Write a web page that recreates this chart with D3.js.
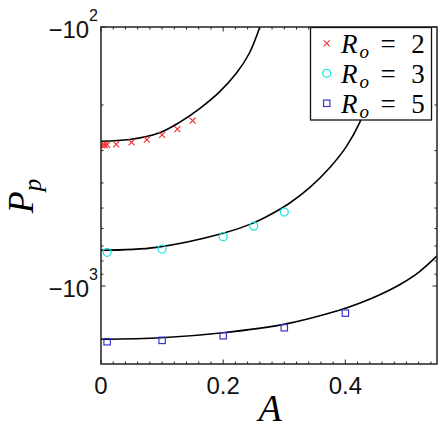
<!DOCTYPE html>
<html>
<head>
<meta charset="utf-8">
<script src="https://d3js.org/d3.v7.min.js"></script>
<style>
  body { margin: 0; background: #fff; }
  svg { display: block; }
  .sans { font-family: "Liberation Sans", Arimo, Roboto, sans-serif; }
  .serif { font-family: "Liberation Serif", Tinos, "Times New Roman", serif; }
</style>
</head>
<body>
<div id="chart"></div>
<script>
// fitted curves (A, P_p)
const curve2A = [0, 0.047, 0.096, 0.129, 0.162, 0.194, 0.2215, 0.243, 0.26];
const curve2P = [-276, -272, -256, -233, -206, -178, -151, -126, -100];

const curve3A = [0, 0.091, 0.2, 0.248, 0.276, 0.309, 0.341, 0.374, 0.401, 0.423, 0.444, 0.46, 0.475];
const curve3P = [-728, -709, -626, -573, -532, -478, -418, -350, -291, -235, -175, -134, -100];

const curve5A = [0, 0.099, 0.2, 0.299, 0.39, 0.423, 0.4555, 0.488, 0.521, 0.55];
const curve5P = [-1606, -1584, -1514, -1406, -1240, -1166, -1083, -991, -881, -765];

// measured points
const ro2A = [0.002, 0.006, 0.01, 0.025, 0.05, 0.075, 0.1, 0.125, 0.15];
const ro2P = [-286, -286, -285, -284, -279, -272, -261, -248, -230];

const ro3A = [0.01, 0.1, 0.2, 0.25, 0.3];
const ro3P = [-741, -720, -645, -587, -518];

const ro5A = [0.01, 0.1, 0.2, 0.3, 0.4];
const ro5P = [-1641, -1621, -1556, -1449, -1272];

const legendLabels = ["2", "3", "5"];
const xTicks = [0, 0.2, 0.4];
const xTickLabels = ["0", "0.2", "0.4"];
const yTicks = [-100, -1000];
const yTickExp = ["2", "3"];

const W = 445, H = 428;
const margin = { top: 27, right: 8, bottom: 64, left: 101 };
const iw = W - margin.left - margin.right;
const ih = H - margin.top - margin.bottom;

const svg = d3.select("#chart").append("svg")
  .attr("width", W).attr("height", H);

const x = d3.scaleLinear().domain([0, 0.55]).range([margin.left, margin.left + iw]);
const yLog = d3.scaleLog().domain([100, 2000]).range([margin.top, margin.top + ih]);
const y = (v) => yLog(-v);

svg.append("clipPath").attr("id", "clip")
  .append("rect")
  .attr("x", margin.left).attr("y", margin.top)
  .attr("width", iw).attr("height", ih);

const plot = svg.append("g").attr("clip-path", "url(#clip)");

// curves
const line = d3.line()
  .x((d) => x(d[0]))
  .y((d) => y(d[1]))
  .curve(d3.curveCatmullRom.alpha(0.5));

[[curve2A, curve2P], [curve3A, curve3P], [curve5A, curve5P]].forEach(([a, p]) => {
  plot.append("path")
    .datum(d3.zip(a, p))
    .attr("d", line)
    .attr("fill", "none")
    .attr("stroke", "#000")
    .attr("stroke-width", 1.6);
});

const red = "#f03030", cyan = "#22e4e4", blue = "#3535d0";

function drawCross(g, cx, cy) {
  const s = 3;
  g.append("path")
    .attr("d", `M${cx - s},${cy - s}L${cx + s},${cy + s}M${cx - s},${cy + s}L${cx + s},${cy - s}`)
    .attr("stroke", red).attr("stroke-width", 1.2).attr("fill", "none");
}
function drawCircle(g, cx, cy) {
  g.append("circle").attr("cx", cx).attr("cy", cy).attr("r", 4)
    .attr("fill", "none").attr("stroke", cyan).attr("stroke-width", 1.3);
}
function drawSquare(g, cx, cy) {
  g.append("rect").attr("x", cx - 3.2).attr("y", cy - 3.2)
    .attr("width", 6.4).attr("height", 6.4)
    .attr("fill", "none").attr("stroke", blue).attr("stroke-width", 1.2);
}

d3.zip(ro2A, ro2P).forEach((d) => drawCross(plot, x(d[0]), y(d[1])));
d3.zip(ro3A, ro3P).forEach((d) => drawCircle(plot, x(d[0]), y(d[1])));
d3.zip(ro5A, ro5P).forEach((d) => drawSquare(plot, x(d[0]), y(d[1])));

// axes (ticks inward on all four sides)
const axisColor = "#222";
const xMinor = d3.range(0, 0.5501, 0.02).filter((v) => !xTicks.some((t) => Math.abs(t - v) < 1e-6));
const yMinor = d3.range(200, 1000, 100).map((v) => -v);

function tickLines(g, vals, len) {
  vals.forEach((v) => {
    const px = x(v);
    g.append("line").attr("x1", px).attr("x2", px)
      .attr("y1", margin.top + ih).attr("y2", margin.top + ih - len);
    g.append("line").attr("x1", px).attr("x2", px)
      .attr("y1", margin.top).attr("y2", margin.top + len);
  });
}
function yTickLines(g, vals, len) {
  vals.forEach((v) => {
    const py = y(v);
    g.append("line").attr("x1", margin.left).attr("x2", margin.left + len)
      .attr("y1", py).attr("y2", py);
    g.append("line").attr("x1", margin.left + iw).attr("x2", margin.left + iw - len)
      .attr("y1", py).attr("y2", py);
  });
}

const ticksG = svg.append("g").attr("stroke", axisColor).attr("stroke-width", 1);
tickLines(ticksG, xTicks, 4.5);
tickLines(ticksG, xMinor, 2.5);
yTickLines(ticksG, yTicks, 4.5);
yTickLines(ticksG, yMinor, 2.5);

svg.append("rect")
  .attr("x", margin.left).attr("y", margin.top)
  .attr("width", iw).attr("height", ih)
  .attr("fill", "none").attr("stroke", axisColor).attr("stroke-width", 1.5);

// tick labels
svg.append("g").selectAll("text")
  .data(xTicks)
  .join("text")
  .attr("class", "sans")
  .attr("x", (d) => x(d))
  .attr("y", 393.5)
  .attr("text-anchor", "middle")
  .attr("font-size", 24)
  .attr("fill", "#111")
  .text((d, i) => xTickLabels[i]);

yTicks.forEach((v, i) => {
  const t = svg.append("text")
    .attr("class", "sans")
    .attr("x", 98)
    .attr("y", y(v) + 11)
    .attr("text-anchor", "end")
    .attr("font-size", 24)
    .attr("fill", "#111");
  t.append("tspan").text("\u221210");
  t.append("tspan").attr("font-size", 16).attr("dy", -17).text(yTickExp[i]);
});

// axis labels
svg.append("text")
  .attr("class", "serif")
  .attr("x", 270).attr("y", 421)
  .attr("text-anchor", "middle")
  .attr("font-style", "italic")
  .attr("font-size", 38)
  .text("A");

const yl = svg.append("text")
  .attr("class", "serif")
  .attr("transform", "translate(33,196) rotate(-90)")
  .attr("text-anchor", "middle")
  .attr("font-style", "italic")
  .attr("font-size", 36);
yl.append("tspan").text("P");
yl.append("tspan").attr("font-size", 25).attr("dy", 8).text("p");

// legend
const leg = svg.append("g");
leg.append("rect")
  .attr("x", 310.5).attr("y", 27.5)
  .attr("width", 121).attr("height", 92.5)
  .attr("fill", "#fff").attr("stroke", "#111").attr("stroke-width", 1.3);

const markers = [drawCross, drawCircle, drawSquare];
legendLabels.forEach((lab, i) => {
  const cy = 43.3 + i * 30;
  markers[i](leg, 326.7, cy);
  const base = cy + 10;
  leg.append("text").attr("class", "serif").attr("x", 341).attr("y", base)
    .attr("font-style", "italic").attr("font-size", 27)
    .text("R");
  leg.append("text").attr("class", "serif").attr("x", 359.5).attr("y", base + 5)
    .attr("font-style", "italic").attr("font-size", 19)
    .text("o");
  leg.append("text").attr("class", "serif").attr("x", 388).attr("y", base)
    .attr("text-anchor", "middle").attr("font-size", 27)
    .text("=");
  leg.append("text").attr("class", "serif").attr("x", 418).attr("y", base)
    .attr("text-anchor", "middle").attr("font-size", 27)
    .text(lab);
});
</script>
</body>
</html>
